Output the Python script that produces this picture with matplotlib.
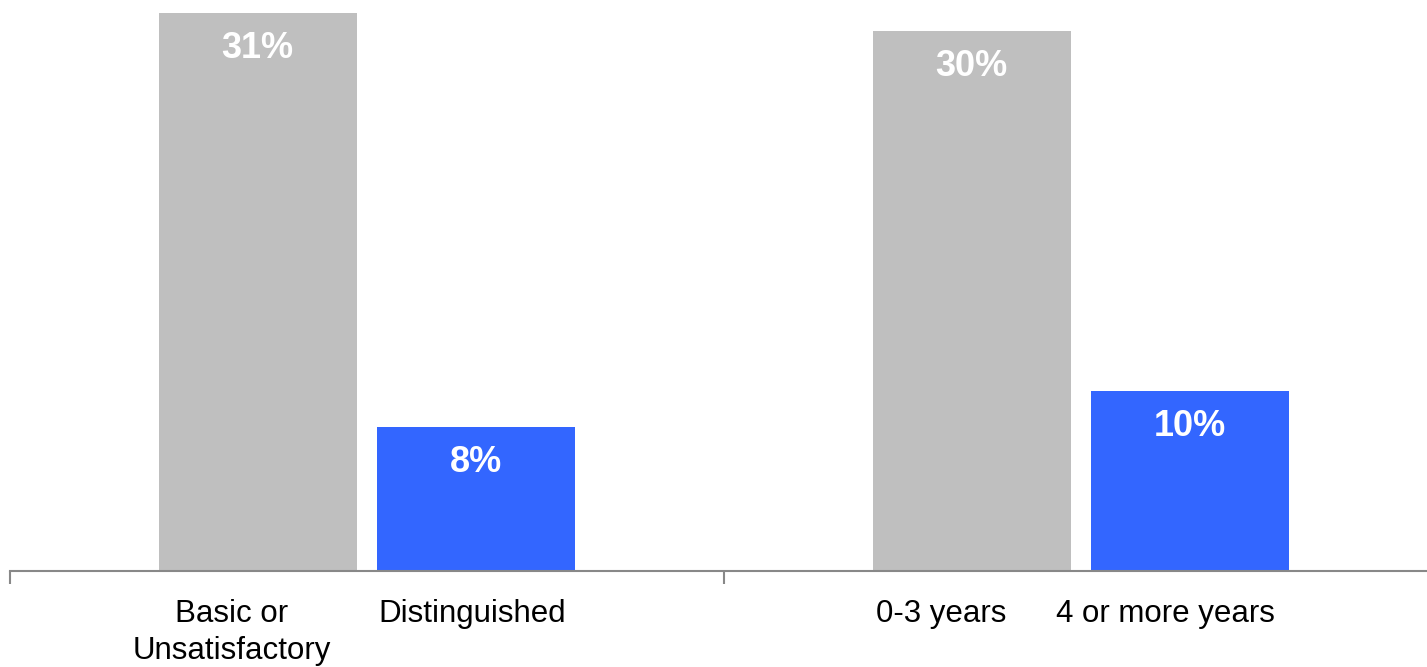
import matplotlib
matplotlib.use("Agg")
import matplotlib.pyplot as plt
import numpy as np

plt.rcParams['font.family'] = ['Liberation Sans', 'DejaVu Sans']

# data
groups = ["Performance", "Experience"]
low_labels = ["Basic or\nUnsatisfactory", "0-3 years"]
high_labels = ["Distinguished", "4 or more years"]
low_values = [31, 30]
high_values = [8, 10]

GRAY = "#BFBFBF"
BLUE = "#3366FF"
AXIS = "#888888"

W, H, DPI = 1427, 667, 100
fig = plt.figure(figsize=(W / DPI, H / DPI), dpi=DPI)
# axes: x from 10px to 1438px (2 categories of 714px), baseline at 571px
ax = fig.add_axes([10 / W, (H - 571) / H, 1428 / W, 571 / H])

x = np.arange(len(groups)) + 0.5
bw = 0.278
off = 0.153

b1 = ax.bar(x - off, low_values, bw, color=GRAY, zorder=2)
b2 = ax.bar(x + off, high_values, bw, color=BLUE, zorder=2)

ax.set_xlim(0, len(groups))
ax.set_ylim(0, 571 / 18)

for bars, vals in ((b1, low_values), (b2, high_values)):
    for rect, v in zip(bars, vals):
        ax.annotate(f"{v}%", (rect.get_x() + rect.get_width() / 2, rect.get_height()),
                    xytext=(0, -36), textcoords="offset pixels",
                    ha="center", va="center", color="white",
                    fontsize=26, fontweight="bold")

# category labels under each bar (text boxes sit a bit left of bar centres)
low_shift = [-26, -31]
high_shift = [-4, -25]
for i in range(len(groups)):
    ax.annotate(low_labels[i], (x[i] - off, 0),
                xytext=(low_shift[i], -28), textcoords="offset pixels",
                ha="center", va="top", fontsize=22.5, linespacing=1.3)
    ax.annotate(high_labels[i], (x[i] + off, 0),
                xytext=(high_shift[i], -28), textcoords="offset pixels",
                ha="center", va="top", fontsize=22.5)

for s in ["top", "right", "left"]:
    ax.spines[s].set_visible(False)
ax.spines["bottom"].set_color(AXIS)
ax.spines["bottom"].set_linewidth(1.5)
ax.set_yticks([])
ax.set_xticks(np.arange(len(groups) + 1))
ax.set_xticklabels([])
ax.tick_params(axis="x", length=9, width=1.5, color=AXIS, direction="out")

fig.savefig("out.png", dpi=DPI)
